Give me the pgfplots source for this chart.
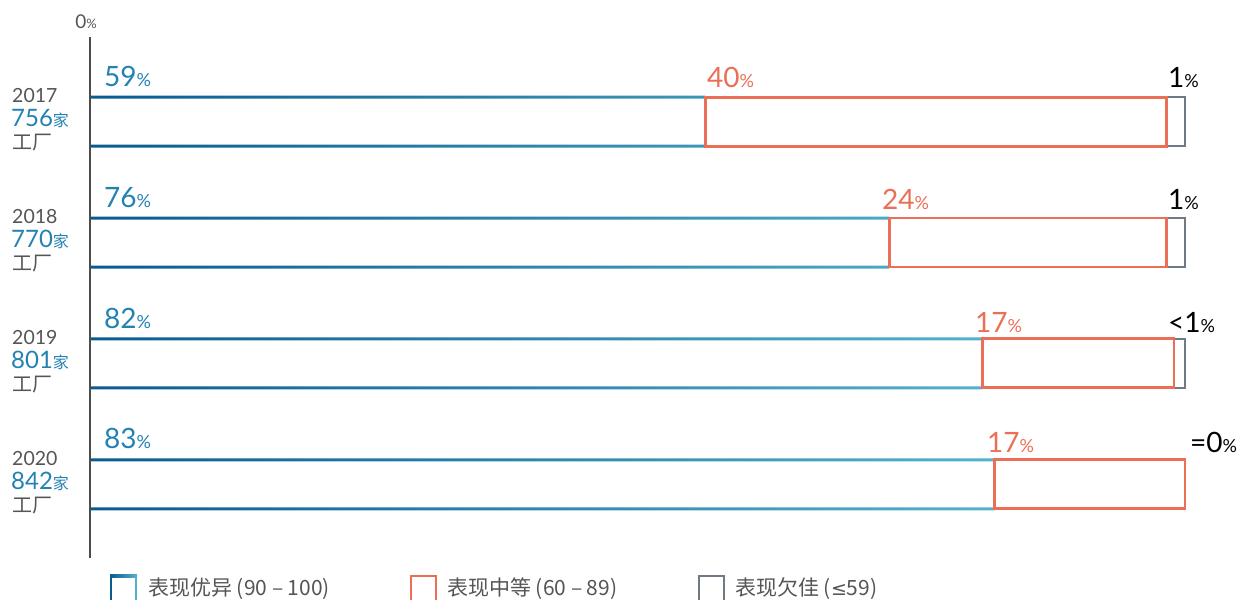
\documentclass[border=0pt]{standalone}
\usepackage{pgfplots}
\pgfplotsset{compat=1.18}
\usepackage{fontspec}
\setmainfont{Lato}
\newfontfamily\cjk{Noto Sans CJK SC}
\newfontfamily\dejavu{DejaVu Sans}

\definecolor{dblue}{HTML}{0A5B8F}
\definecolor{lblue}{HTML}{52B3CB}
\definecolor{tblue}{HTML}{2382B2}
\definecolor{orng}{HTML}{EB6E56}
\definecolor{gry}{HTML}{6F7A84}
\definecolor{txt}{HTML}{555555}

% big number, small percent sign
\newcommand{\pct}[1]{{\fontsize{28}{28}\selectfont #1\fontsize{18}{18}\selectfont\%}}

\pgfplotsset{
  base/.style={
    at={(90pt,42pt)}, anchor=south west,
    scale only axis, width=1095pt, height=521pt,
    xmin=0, xmax=100, ymin=-0.70, ymax=3.61,
    y dir=reverse, hide axis, clip=false
  }
}

\begin{document}
\begin{tikzpicture}[x=1pt,y=1pt]
\useasboundingbox (0,0) rectangle (1240,600);

% top and bottom edges of the "excellent" bars
\begin{axis}[base, xbar, bar width=3pt]
  \addplot[bar shift=24.5pt, draw=none, left color=dblue, right color=lblue]
    coordinates {(56.2,0) (73.0,1) (81.5,2) (82.6,3)};
  \addplot[bar shift=-24.5pt, draw=none, left color=dblue, right color=lblue]
    coordinates {(56.2,0) (73.0,1) (81.5,2) (82.6,3)};
\end{axis}

% "poor" boxes
\begin{axis}[base, xbar stacked, bar width=49pt]
  \addplot[draw=none, fill=none] coordinates {(98.3,0) (98.3,1) (99.0,2)};
  \addplot[draw=gry, line width=2.6pt, fill=none] coordinates {(1.7,0) (1.7,1) (1.0,2)};
\end{axis}

% "medium" boxes
\begin{axis}[base, xbar stacked, bar width=49pt]
  \addplot[draw=none, fill=none] coordinates {(56.2,0) (73.0,1) (81.5,2) (82.6,3)};
  \addplot[draw=orng, line width=2.8pt, fill=none] coordinates {(42.1,0) (25.3,1) (17.5,2) (17.4,3)};
\end{axis}

% axis line and 0%
\draw[line width=1.8pt, color=black!70] (90,42) -- (90,563);
\node[anchor=base, text=txt, inner sep=0pt] at (86,571)
  {\fontsize{19}{19}\selectfont 0\fontsize{13}{13}\selectfont\%};

% value labels
\foreach \v/\yb in {59/513, 76/392, 82/271, 83/151}
  \node[anchor=base west, text=tblue, inner sep=0pt] at (104,\yb) {\pct{\v}};
\foreach \v/\xx/\yb in {40/707/512, 24/882/390, 17/975/267, 17/987/147}
  \node[anchor=base west, text=orng, inner sep=0pt] at (\xx,\yb) {\pct{\v}};
\node[anchor=base west, text=black, inner sep=0pt] at (1168,512) {\pct{1}};
\node[anchor=base west, text=black, inner sep=0pt] at (1168,390) {\pct{1}};
\node[anchor=base west, text=black, inner sep=0pt] at (1168,267) {\pct{<1}};
\node[anchor=base west, text=black, inner sep=0pt] at (1190,147) {\pct{=0}};

% year labels
\foreach \yr/\n/\dy in {2017/756/0, 2018/770/121, 2019/801/242, 2020/842/363} {
  \node[anchor=base west, text=txt, inner sep=0pt] at (12,497-\dy)
    {\fontsize{19.5}{19.5}\selectfont \yr};
  \node[anchor=base west, text=tblue, inner sep=0pt] at (11,473-\dy)
    {\fontsize{24}{24}\selectfont \n\cjk\fontsize{16}{16}\selectfont 家};
  \node[anchor=base west, text=txt, inner sep=0pt] at (12,450-\dy)
    {\cjk\fontsize{20}{20}\selectfont 工厂};
}

% legend
\fill[left color=dblue, right color=lblue] (110,23) rectangle (137,25.5);
\draw[line width=2.5pt, dblue] (111.2,0) -- (111.2,25.5);
\draw[line width=2.5pt, lblue] (135.8,0) -- (135.8,25.5);
\draw[line width=2.5pt, orng] (411.2,0) -- (411.2,24.2) -- (435.8,24.2) -- (435.8,0);
\draw[line width=2.5pt, gry] (699.2,0) -- (699.2,24.2) -- (723.8,24.2) -- (723.8,0);
\node[anchor=base west, text=txt, inner sep=0pt] at (148,5)
  {\cjk\fontsize{21}{21}\selectfont 表现优异 (90 – 100)};
\node[anchor=base west, text=txt, inner sep=0pt] at (447,5)
  {\cjk\fontsize{21}{21}\selectfont 表现中等 (60 – 89)};
\node[anchor=base west, text=txt, inner sep=0pt] at (735,5)
  {\cjk\fontsize{21}{21}\selectfont 表现欠佳 ({\dejavu\fontsize{19}{19}\selectfont ≤}59)};
\end{tikzpicture}
\end{document}
